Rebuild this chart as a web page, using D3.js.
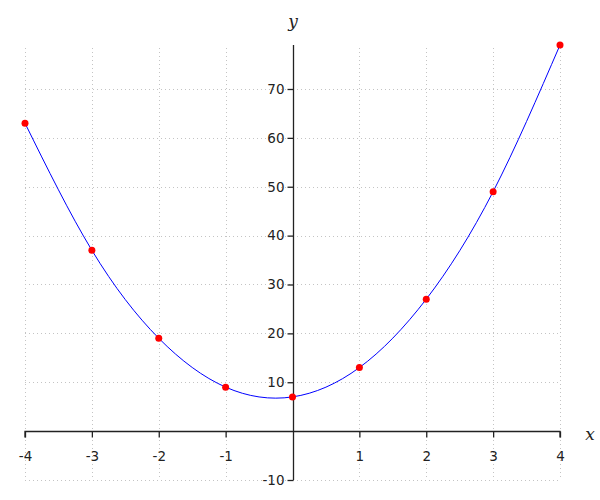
<!DOCTYPE html>
<html><head><meta charset="utf-8">
<script src="https://cdn.jsdelivr.net/npm/d3@7"></script>
<style>body{margin:0;background:#fff}svg{display:block}</style>
</head><body>
<svg id="c" width="600" height="500"></svg>
<script>
const xs = [-4, -3, -2, -1, 0, 1, 2, 3, 4];
const ys = [63, 37, 19, 9, 7, 13, 27, 49, 79];
const xTicks = [-4, -3, -2, -1, 1, 2, 3, 4];
const yTicks = [-10, 10, 20, 30, 40, 50, 60, 70];
const xGrid = [-4, -3, -2, -1, 0, 1, 2, 3, 4];
const yGrid = [-10, 10, 20, 30, 40, 50, 60, 70];

const svg = d3.select("#c");
const x = d3.scaleLinear().domain([-4, 4]).range([25, 560]);
const y = d3.scaleLinear().domain([-10, 79]).range([480, 45]);
const font = "DejaVu Sans, sans-serif";
const fmt = d => String(d);

// grid
const g = svg.append("g").attr("stroke", "#c4c4c4").attr("stroke-width", 1).attr("stroke-dasharray", "1,3");
g.selectAll(".vg").data(xGrid).join("line")
  .attr("x1", d => Math.round(x(d)) + 0.5).attr("x2", d => Math.round(x(d)) + 0.5)
  .attr("y1", 48).attr("y2", y(-10));
g.selectAll(".hg").data(yGrid).join("line")
  .attr("y1", d => Math.round(y(d)) + 0.5).attr("y2", d => Math.round(y(d)) + 0.5)
  .attr("x1", x(-4)).attr("x2", x(4));

// x axis
const xa = svg.append("g").attr("transform", `translate(0,${Math.round(y(0)) + 0.5})`)
  .call(d3.axisBottom(x).tickValues(xTicks).tickSize(6).tickPadding(14).tickFormat(fmt));
xa.select(".domain").attr("d", `M${x(-4)},6V0H${x(4)}V6`).attr("stroke", "#222").attr("stroke-width", 1.3);
xa.selectAll(".tick line").attr("stroke", "#222").attr("stroke-width", 1.3);
xa.selectAll("text").attr("font-family", font).attr("font-size", 13.5).attr("fill", "#222");

// y axis
const ya = svg.append("g").attr("transform", `translate(${Math.round(x(0)) + 0.5},0)`)
  .call(d3.axisLeft(y).tickValues(yTicks).tickSize(6).tickPadding(3).tickFormat(fmt));
ya.select(".domain").attr("d", `M0,45V${y(-10)}`).attr("stroke", "#222").attr("stroke-width", 1.3);
ya.selectAll(".tick line").attr("stroke", "#222").attr("stroke-width", 1.3);
ya.selectAll("text").attr("font-family", font).attr("font-size", 13.5).attr("fill", "#222");

// curve
const pts = xs.map((v, i) => [v, ys[i]]);
svg.append("path").datum(pts)
  .attr("fill", "none").attr("stroke", "#0000ff").attr("stroke-width", 1)
  .attr("d", d3.line().x(d => x(d[0])).y(d => y(d[1])).curve(d3.curveNatural));

svg.selectAll(".pt").data(pts).join("circle")
  .attr("cx", d => x(d[0])).attr("cy", d => y(d[1])).attr("r", 3.5).attr("fill", "#ff0000");

// axis labels
svg.append("text").attr("x", 590).attr("y", 440).attr("text-anchor", "middle")
  .attr("font-family", "DejaVu Serif, serif").attr("font-style", "italic").attr("font-size", 17).attr("fill", "#222").text("x");
svg.append("text").attr("x", 293).attr("y", 27).attr("text-anchor", "middle")
  .attr("font-family", "DejaVu Serif, serif").attr("font-style", "italic").attr("font-size", 17).attr("fill", "#222").text("y");
</script>
</body></html>
